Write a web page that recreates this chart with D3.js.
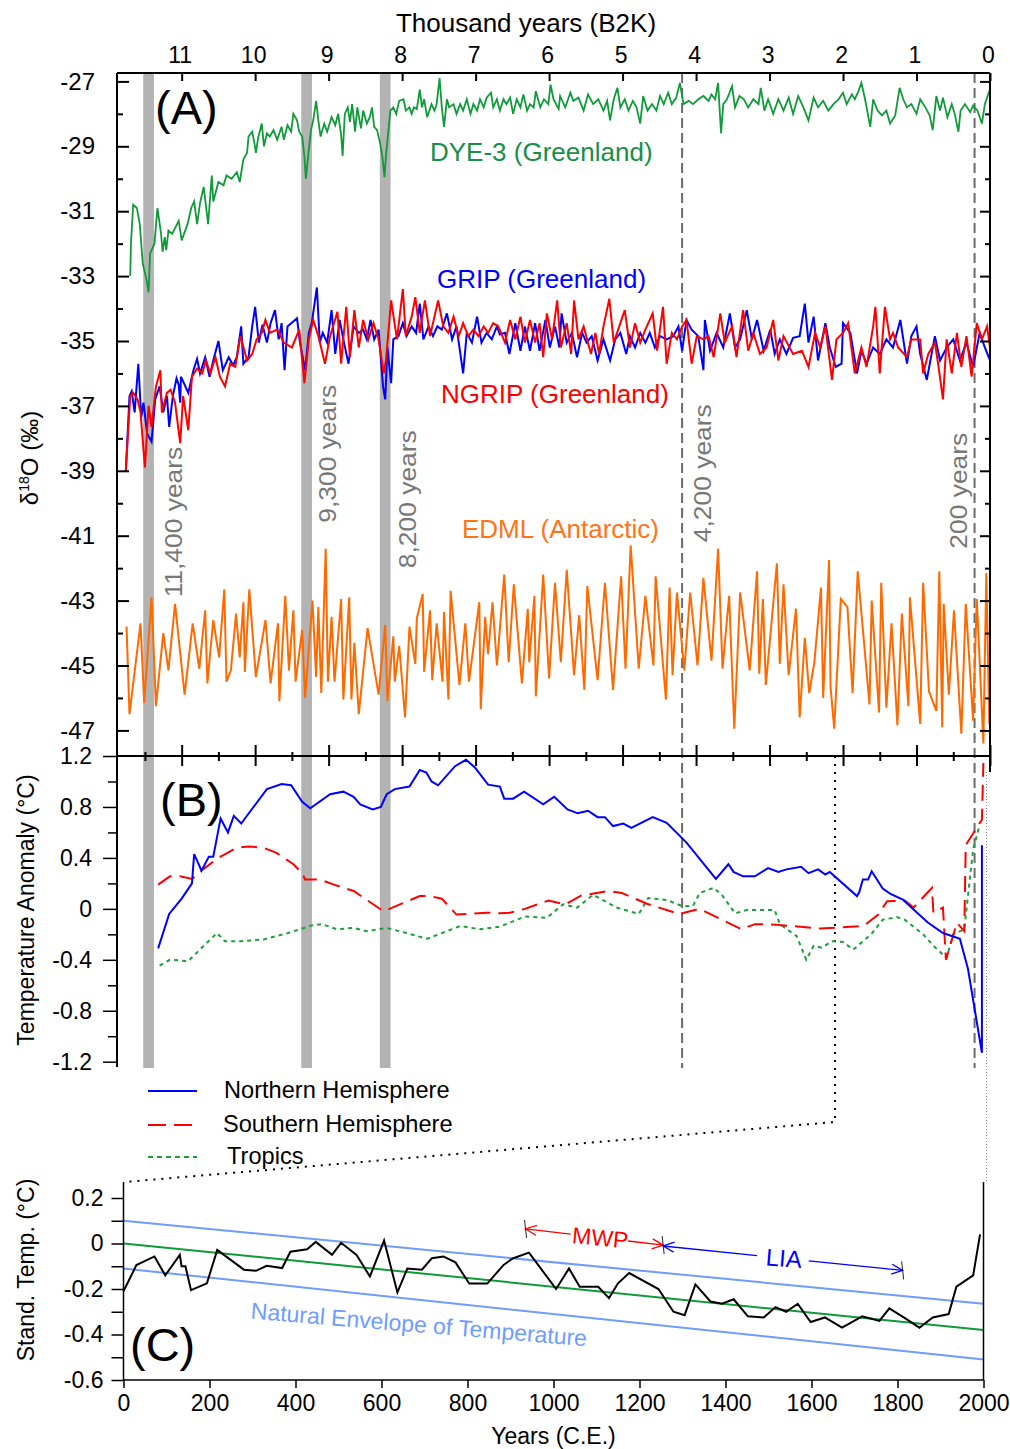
<!DOCTYPE html>
<html>
<head>
<meta charset="utf-8">
<script src="https://d3js.org/d3.v7.min.js"></script>
<style>
  body { margin: 0; background: #fff; }
  text { font-family: "Liberation Sans", Arial, Helvetica, sans-serif; }
</style>
</head>
<body>
<svg id="chart" width="1010" height="1449"></svg>
<script>
// ---------- tick values ----------
var kyrTicks = [11, 10, 9, 8, 7, 6, 5, 4, 3, 2, 1, 0];
var kyrMinor = [11.5, 10.5, 9.5, 8.5, 7.5, 6.5, 5.5, 4.5, 3.5, 2.5, 1.5, 0.5];
var d18oMajor = [-27, -29, -31, -33, -35, -37, -39, -41, -43, -45, -47];
var d18oMinor = [-28, -30, -32, -34, -36, -38, -40, -42, -44, -46];
var anomMajor = [1.2, 0.8, 0.4, 0, -0.4, -0.8, -1.2];
var anomMinor = [1.0, 0.6, 0.2, -0.2, -0.6, -1.0];
var stdMajor = [0.2, 0, -0.2, -0.4, -0.6];
var stdMinor = [0.1, -0.1, -0.3, -0.5];
var yearTicks = [0, 200, 400, 600, 800, 1000, 1200, 1400, 1600, 1800, 2000];

// ---------- events (thousand years B2K) ----------
var eventBands = [11.45, 9.30, 8.23];
var eventLines = [4.19, 0.21];
var eventLabels = ["11,400 years", "9,300 years", "8,200 years", "4,200 years", "200 years"];
var eventLabelAge = [10.99, 8.90, 7.81, 3.80, 0.31];
var eventLabelD18o = [-42.9, -40.6, -42.0, -41.2, -41.4];

// ---------- panel A : d18O records [kyr B2K, permil] ----------
var dye3 = [[11.70,-33.0],[11.69,-32.0],[11.66,-30.8],[11.61,-30.9],[11.57,-31.4],[11.53,-32.6],[11.48,-33.1],[11.45,-33.5],[11.43,-32.3],[11.37,-32.0],[11.33,-30.9],[11.28,-31.7],[11.26,-32.25],[11.23,-31.8],[11.21,-32.2],[11.18,-31.6],[11.13,-31.7],[11.04,-31.3],[11.00,-31.9],[10.92,-31.4],[10.87,-30.9],[10.83,-30.7],[10.79,-31.4],[10.75,-30.75],[10.70,-30.25],[10.64,-31.4],[10.59,-29.9],[10.57,-30.7],[10.54,-30.45],[10.50,-30.1],[10.43,-30.2],[10.39,-29.9],[10.32,-30.0],[10.25,-29.8],[10.21,-30.1],[10.16,-29.4],[10.11,-29.2],[10.09,-28.7],[10.04,-28.55],[10.01,-28.9],[9.99,-29.2],[9.96,-28.75],[9.91,-28.3],[9.88,-29.0],[9.84,-28.6],[9.80,-28.7],[9.75,-28.5],[9.70,-28.8],[9.64,-28.4],[9.61,-28.8],[9.56,-28.35],[9.51,-28.55],[9.48,-28.0],[9.43,-28.2],[9.40,-28.55],[9.36,-28.7],[9.33,-29.3],[9.31,-30.0],[9.27,-29.1],[9.24,-28.5],[9.21,-28.2],[9.17,-27.6],[9.14,-28.2],[9.11,-28.7],[9.06,-28.3],[9.02,-28.55],[8.96,-28.1],[8.91,-28.35],[8.87,-28.0],[8.83,-28.65],[8.81,-29.3],[8.78,-28.0],[8.74,-27.8],[8.71,-28.25],[8.68,-27.7],[8.64,-28.55],[8.61,-27.8],[8.56,-28.45],[8.53,-27.9],[8.48,-28.3],[8.44,-28.1],[8.41,-27.8],[8.38,-28.4],[8.34,-28.5],[8.30,-28.9],[8.27,-29.3],[8.24,-29.95],[8.22,-29.3],[8.19,-28.6],[8.16,-27.9],[8.12,-27.8],[8.08,-28.0],[8.04,-27.6],[7.98,-27.55],[7.95,-27.9],[7.90,-27.8],[7.87,-28.0],[7.84,-27.8],[7.80,-27.85],[7.76,-27.25],[7.73,-27.8],[7.70,-27.55],[7.66,-28.1],[7.60,-27.7],[7.56,-27.9],[7.53,-27.7],[7.49,-26.9],[7.46,-27.8],[7.43,-28.4],[7.39,-27.55],[7.36,-27.8],[7.30,-27.7],[7.26,-28.0],[7.21,-27.7],[7.17,-27.9],[7.12,-27.55],[7.07,-28.0],[7.03,-27.7],[6.98,-27.9],[6.94,-27.55],[6.89,-27.8],[6.85,-27.5],[6.79,-27.35],[6.76,-27.8],[6.71,-27.55],[6.67,-27.9],[6.62,-27.55],[6.58,-27.7],[6.53,-27.5],[6.49,-28.0],[6.44,-27.55],[6.39,-27.8],[6.35,-27.4],[6.30,-27.9],[6.26,-27.7],[6.21,-27.8],[6.18,-27.3],[6.12,-27.8],[6.07,-27.55],[6.01,-27.7],[5.98,-27.1],[5.94,-27.55],[5.87,-27.85],[5.85,-27.45],[5.78,-27.8],[5.71,-27.35],[5.67,-27.6],[5.60,-27.5],[5.53,-27.9],[5.47,-27.4],[5.40,-27.7],[5.33,-27.55],[5.26,-27.9],[5.21,-27.6],[5.17,-28.2],[5.12,-27.55],[5.07,-27.2],[5.03,-27.8],[4.97,-27.55],[4.92,-27.9],[4.86,-27.6],[4.81,-27.8],[4.76,-28.3],[4.72,-27.45],[4.66,-27.9],[4.60,-27.7],[4.54,-27.9],[4.49,-27.45],[4.44,-27.7],[4.38,-27.35],[4.33,-27.7],[4.27,-27.5],[4.22,-27.05],[4.17,-27.7],[4.10,-27.6],[4.04,-27.7],[3.97,-27.55],[3.90,-27.45],[3.83,-27.6],[3.79,-27.4],[3.74,-27.55],[3.70,-27.05],[3.66,-28.6],[3.63,-27.7],[3.58,-27.55],[3.51,-27.15],[3.47,-27.8],[3.41,-27.45],[3.35,-27.55],[3.29,-27.8],[3.22,-27.55],[3.15,-27.7],[3.12,-27.2],[3.07,-27.9],[3.02,-27.55],[2.95,-28.0],[2.88,-27.55],[2.81,-27.9],[2.74,-27.5],[2.68,-28.0],[2.61,-27.45],[2.54,-27.8],[2.47,-28.2],[2.40,-27.5],[2.34,-27.8],[2.27,-27.6],[2.20,-27.9],[2.13,-27.7],[2.06,-27.55],[2.00,-27.35],[1.95,-27.7],[1.88,-27.4],[1.84,-27.55],[1.79,-27.3],[1.75,-27.05],[1.70,-27.55],[1.63,-28.4],[1.59,-27.55],[1.53,-27.9],[1.47,-28.05],[1.41,-27.9],[1.36,-28.3],[1.29,-28.05],[1.23,-27.2],[1.18,-27.55],[1.13,-27.8],[1.07,-27.7],[1.00,-28.0],[0.95,-27.55],[0.88,-27.8],[0.82,-28.05],[0.78,-28.5],[0.73,-27.45],[0.68,-27.9],[0.64,-27.5],[0.58,-28.1],[0.52,-27.7],[0.48,-28.0],[0.43,-28.55],[0.40,-27.9],[0.34,-27.7],[0.27,-27.95],[0.23,-27.75],[0.17,-27.9],[0.11,-28.3],[0.07,-27.7],[0.01,-27.3]];

var grip = [[11.76,-39.0],[11.71,-36.7],[11.68,-36.55],[11.64,-37.2],[11.59,-35.7],[11.55,-37.35],[11.52,-36.9],[11.47,-37.85],[11.41,-38.1],[11.36,-36.8],[11.30,-36.4],[11.25,-37.2],[11.20,-36.7],[11.17,-37.65],[11.12,-36.7],[11.07,-36.15],[11.04,-36.35],[11.02,-36.9],[11.01,-36.1],[10.91,-36.6],[10.84,-35.9],[10.79,-35.55],[10.75,-36.0],[10.68,-35.5],[10.62,-36.1],[10.57,-35.6],[10.50,-35.0],[10.44,-35.9],[10.36,-35.5],[10.30,-35.75],[10.25,-35.5],[10.19,-34.55],[10.16,-35.7],[10.09,-35.5],[10.04,-34.55],[10.00,-33.95],[9.95,-35.05],[9.90,-34.5],[9.84,-35.05],[9.79,-34.45],[9.73,-34.05],[9.68,-34.95],[9.64,-34.45],[9.60,-35.9],[9.56,-34.55],[9.43,-34.3],[9.39,-35.05],[9.32,-35.9],[9.27,-34.75],[9.23,-34.45],[9.16,-33.35],[9.12,-35.05],[9.08,-34.75],[9.02,-35.05],[8.96,-34.05],[8.91,-35.4],[8.85,-34.35],[8.80,-34.95],[8.73,-35.7],[8.66,-34.55],[8.59,-34.75],[8.53,-34.65],[8.48,-34.95],[8.43,-34.35],[8.38,-34.95],[8.32,-34.65],[8.26,-36.4],[8.23,-36.8],[8.20,-35.2],[8.15,-36.3],[8.12,-34.95],[8.05,-34.85],[7.99,-34.45],[7.94,-34.85],[7.87,-34.55],[7.81,-34.75],[7.76,-33.85],[7.71,-34.95],[7.64,-34.55],[7.58,-34.85],[7.52,-34.55],[7.46,-34.65],[7.39,-34.15],[7.32,-34.95],[7.26,-34.55],[7.17,-36.0],[7.12,-34.75],[7.05,-35.05],[6.98,-34.25],[6.92,-35.05],[6.85,-34.75],[6.78,-34.95],[6.71,-34.55],[6.67,-34.8],[6.60,-34.75],[6.54,-35.4],[6.46,-34.45],[6.39,-35.3],[6.33,-34.55],[6.26,-35.3],[6.19,-34.45],[6.13,-35.3],[6.05,-34.35],[5.99,-35.2],[5.92,-34.55],[5.86,-35.2],[5.83,-34.15],[5.76,-35.05],[5.69,-34.75],[5.62,-35.5],[5.55,-34.75],[5.49,-35.05],[5.42,-34.85],[5.34,-35.6],[5.26,-34.95],[5.17,-35.6],[5.10,-34.95],[5.03,-34.75],[4.95,-35.4],[4.90,-34.85],[4.83,-35.2],[4.76,-34.75],[4.69,-35.05],[4.63,-34.75],[4.56,-35.2],[4.49,-34.85],[4.40,-34.95],[4.31,-34.85],[4.24,-34.55],[4.19,-35.3],[4.13,-34.35],[4.06,-34.65],[3.97,-34.85],[3.90,-35.9],[3.88,-34.35],[3.81,-35.3],[3.72,-34.75],[3.63,-35.2],[3.54,-34.15],[3.47,-35.2],[3.40,-34.95],[3.31,-34.05],[3.24,-34.95],[3.17,-34.35],[3.08,-35.3],[2.99,-34.65],[2.93,-35.4],[2.86,-34.95],[2.77,-35.4],[2.68,-34.9],[2.59,-34.85],[2.52,-33.85],[2.47,-35.05],[2.40,-34.25],[2.34,-35.6],[2.24,-34.45],[2.18,-35.2],[2.10,-35.8],[2.02,-35.7],[2.00,-34.45],[1.90,-34.75],[1.81,-36.0],[1.75,-35.3],[1.68,-35.7],[1.59,-35.2],[1.50,-35.4],[1.41,-34.95],[1.32,-35.2],[1.22,-34.35],[1.13,-35.7],[1.07,-34.85],[1.00,-34.55],[0.95,-35.4],[0.86,-36.2],[0.75,-34.85],[0.68,-35.6],[0.59,-35.2],[0.50,-34.95],[0.41,-35.6],[0.32,-35.05],[0.23,-35.8],[0.14,-34.75],[0.07,-35.2],[0.00,-35.6]];

var ngrip = [[11.76,-39.0],[11.70,-36.7],[11.66,-36.6],[11.60,-36.8],[11.56,-37.2],[11.50,-38.9],[11.45,-37.0],[11.41,-37.65],[11.35,-36.4],[11.29,-35.9],[11.27,-37.2],[11.20,-36.6],[11.15,-36.5],[11.09,-36.9],[11.02,-38.15],[10.98,-36.7],[10.91,-37.75],[10.86,-36.1],[10.79,-35.85],[10.72,-36.0],[10.67,-35.6],[10.61,-36.0],[10.54,-35.5],[10.48,-36.1],[10.41,-36.4],[10.34,-35.7],[10.27,-35.8],[10.20,-34.85],[10.11,-35.6],[10.04,-35.4],[9.98,-34.95],[9.91,-34.75],[9.86,-34.35],[9.80,-34.75],[9.70,-34.65],[9.61,-35.05],[9.50,-35.2],[9.40,-34.65],[9.33,-36.3],[9.27,-34.95],[9.21,-34.35],[9.14,-34.85],[9.05,-35.7],[8.98,-34.85],[8.88,-34.1],[8.83,-35.7],[8.76,-33.95],[8.71,-35.5],[8.65,-34.05],[8.59,-35.2],[8.53,-34.35],[8.46,-34.95],[8.39,-34.45],[8.32,-34.95],[8.25,-36.0],[8.22,-35.6],[8.15,-33.75],[8.07,-34.95],[7.99,-33.4],[7.95,-34.85],[7.87,-34.25],[7.82,-33.65],[7.76,-34.75],[7.69,-33.75],[7.62,-34.85],[7.51,-33.75],[7.44,-34.55],[7.37,-34.75],[7.30,-34.25],[7.23,-34.85],[7.17,-34.45],[7.10,-34.85],[7.03,-34.65],[6.96,-34.85],[6.89,-34.55],[6.83,-34.75],[6.76,-34.45],[6.69,-34.55],[6.60,-35.05],[6.53,-34.35],[6.46,-34.95],[6.39,-34.25],[6.33,-35.05],[6.26,-34.35],[6.19,-35.05],[6.13,-34.45],[6.08,-35.5],[6.03,-34.15],[5.96,-34.95],[5.89,-33.75],[5.84,-35.2],[5.76,-34.45],[5.70,-35.4],[5.66,-33.75],[5.60,-34.95],[5.53,-34.55],[5.43,-35.4],[5.37,-34.75],[5.32,-35.4],[5.26,-34.55],[5.18,-33.7],[5.12,-35.05],[5.06,-34.65],[4.97,-34.05],[4.90,-35.2],[4.83,-34.45],[4.76,-35.05],[4.69,-34.65],[4.59,-34.15],[4.53,-35.3],[4.45,-33.95],[4.40,-35.7],[4.33,-34.75],[4.26,-34.95],[4.19,-34.55],[4.13,-34.35],[4.06,-35.7],[3.99,-34.85],[3.90,-34.95],[3.83,-34.85],[3.76,-35.5],[3.67,-34.15],[3.61,-35.05],[3.51,-34.55],[3.45,-35.5],[3.36,-34.05],[3.29,-35.3],[3.22,-34.75],[3.13,-35.4],[3.04,-35.2],[2.95,-34.35],[2.88,-35.6],[2.81,-34.85],[2.68,-35.4],[2.56,-35.3],[2.47,-35.8],[2.38,-34.75],[2.31,-35.2],[2.24,-34.55],[2.15,-36.2],[2.09,-34.95],[2.00,-34.75],[1.93,-34.45],[1.84,-36.0],[1.75,-35.2],[1.68,-35.8],[1.59,-34.55],[1.56,-33.95],[1.50,-36.0],[1.43,-33.95],[1.36,-34.95],[1.32,-34.75],[1.25,-35.2],[1.13,-35.5],[1.07,-34.95],[0.95,-34.95],[0.91,-36.0],[0.84,-35.4],[0.75,-35.05],[0.70,-35.8],[0.64,-36.8],[0.59,-34.95],[0.52,-36.0],[0.45,-34.75],[0.39,-35.8],[0.32,-34.85],[0.25,-36.1],[0.18,-34.45],[0.11,-34.95],[0.04,-34.55],[0.00,-35.2]];

var edml = [[11.75,-43.8],[11.71,-46.5],[11.56,-43.7],[11.51,-46.15],[11.41,-42.9],[11.35,-46.25],[11.25,-44.0],[11.18,-45.15],[11.09,-43.1],[10.96,-45.9],[10.85,-43.7],[10.76,-45.1],[10.68,-43.3],[10.65,-45.55],[10.57,-43.6],[10.49,-44.75],[10.42,-42.65],[10.39,-45.5],[10.33,-45.15],[10.26,-43.4],[10.21,-44.75],[10.16,-43.05],[10.14,-45.2],[10.08,-42.65],[9.99,-45.35],[9.86,-43.6],[9.79,-45.55],[9.69,-43.7],[9.67,-46.1],[9.59,-42.85],[9.54,-45.15],[9.48,-43.3],[9.45,-45.5],[9.36,-43.9],[9.32,-46.0],[9.22,-43.0],[9.17,-45.35],[9.14,-43.2],[9.10,-45.85],[9.04,-41.4],[9.01,-45.5],[8.96,-43.5],[8.92,-45.5],[8.83,-42.95],[8.80,-46.05],[8.72,-42.9],[8.69,-46.05],[8.65,-44.3],[8.59,-46.5],[8.47,-43.85],[8.32,-45.9],[8.23,-43.75],[8.20,-46.1],[8.12,-44.1],[8.10,-45.5],[8.04,-44.4],[7.96,-46.6],[7.90,-43.8],[7.82,-44.95],[7.80,-43.55],[7.72,-42.8],[7.70,-45.2],[7.62,-43.3],[7.59,-45.45],[7.53,-43.7],[7.45,-45.5],[7.43,-43.35],[7.37,-46.05],[7.34,-42.7],[7.22,-45.6],[7.14,-43.7],[7.09,-45.5],[6.95,-43.05],[6.93,-46.35],[6.87,-43.5],[6.83,-44.65],[6.77,-43.05],[6.71,-45.0],[6.61,-42.2],[6.55,-44.9],[6.48,-42.5],[6.37,-45.55],[6.29,-43.25],[6.27,-44.9],[6.20,-42.85],[6.18,-45.95],[6.08,-42.2],[6.00,-45.4],[5.92,-42.45],[5.84,-44.9],[5.76,-42.05],[5.66,-45.3],[5.59,-43.45],[5.52,-45.75],[5.48,-42.55],[5.34,-45.45],[5.24,-42.45],[5.13,-45.75],[5.02,-42.25],[4.96,-45.1],[4.89,-41.3],[4.78,-45.1],[4.69,-42.85],[4.58,-45.0],[4.55,-42.25],[4.41,-46.05],[4.36,-42.6],[4.32,-45.3],[4.26,-42.75],[4.16,-45.15],[4.08,-42.75],[3.98,-45.0],[3.90,-42.3],[3.79,-44.85],[3.70,-41.4],[3.64,-45.1],[3.55,-42.85],[3.48,-46.95],[3.40,-42.75],[3.27,-45.15],[3.17,-42.1],[3.14,-45.25],[3.09,-42.95],[3.05,-45.6],[2.90,-41.85],[2.86,-44.95],[2.81,-42.5],[2.74,-45.3],[2.64,-43.25],[2.59,-46.6],[2.52,-44.15],[2.46,-45.85],[2.39,-44.9],[2.30,-42.6],[2.27,-46.0],[2.19,-41.75],[2.17,-45.65],[2.12,-46.95],[2.03,-42.95],[1.94,-43.2],[1.87,-45.85],[1.80,-42.1],[1.64,-46.2],[1.61,-43.0],[1.51,-46.45],[1.48,-42.45],[1.41,-46.3],[1.34,-43.7],[1.26,-46.85],[1.20,-43.4],[1.11,-46.25],[1.09,-42.9],[0.95,-46.8],[0.91,-42.45],[0.83,-45.8],[0.73,-46.4],[0.69,-42.1],[0.65,-46.9],[0.63,-43.1],[0.56,-45.9],[0.49,-43.3],[0.39,-47.1],[0.33,-43.1],[0.23,-46.7],[0.18,-42.95],[0.09,-47.4],[0.05,-42.15],[0.01,-46.8]];

// ---------- panel B : temperature anomaly [kyr B2K, degC] ----------
var nhTemp = [[11.32,-0.31],[11.17,-0.04],[11.00,0.08],[10.86,0.20],[10.83,0.43],[10.73,0.30],[10.63,0.41],[10.57,0.41],[10.47,0.71],[10.37,0.60],[10.29,0.73],[10.19,0.67],[9.84,0.94],[9.64,0.98],[9.51,0.97],[9.36,0.84],[9.25,0.79],[8.98,0.90],[8.80,0.92],[8.66,0.88],[8.57,0.82],[8.40,0.78],[8.29,0.80],[8.21,0.90],[8.10,0.94],[7.90,0.96],[7.76,1.09],[7.67,1.07],[7.60,1.00],[7.51,0.97],[7.28,1.12],[7.13,1.17],[7.01,1.11],[6.83,0.975],[6.67,0.96],[6.61,0.865],[6.49,0.865],[6.34,0.92],[6.08,0.82],[5.93,0.88],[5.75,0.78],[5.61,0.75],[5.47,0.77],[5.34,0.72],[5.24,0.72],[5.13,0.65],[4.99,0.67],[4.88,0.635],[4.59,0.72],[4.40,0.675],[4.13,0.52],[3.73,0.235],[3.56,0.35],[3.49,0.29],[3.36,0.255],[3.20,0.255],[3.02,0.32],[2.88,0.29],[2.77,0.31],[2.57,0.33],[2.47,0.28],[2.34,0.31],[2.24,0.27],[2.18,0.29],[1.81,0.10],[1.78,0.13],[1.73,0.23],[1.66,0.23],[1.61,0.295],[1.46,0.16],[1.36,0.12],[1.18,0.07],[1.04,-0.005],[0.85,-0.105],[0.64,-0.19],[0.41,-0.235],[0.30,-0.47],[0.11,-1.13],[0.11,0.50]];

var shTemp = [[11.32,0.19],[11.16,0.255],[11.02,0.255],[10.86,0.235],[10.71,0.31],[10.50,0.40],[10.25,0.48],[10.09,0.49],[9.89,0.48],[9.71,0.44],[9.48,0.35],[9.36,0.28],[9.32,0.23],[9.12,0.23],[8.93,0.19],[8.66,0.14],[8.48,0.07],[8.25,-0.02],[8.03,0.035],[7.76,0.10],[7.62,0.10],[7.46,0.08],[7.26,-0.045],[6.85,-0.03],[6.67,-0.035],[6.53,-0.03],[6.33,0.0],[6.01,0.065],[5.78,0.035],[5.56,0.105],[5.19,0.14],[5.01,0.125],[4.67,0.04],[4.23,-0.04],[3.95,0.0],[3.38,-0.16],[3.20,-0.12],[2.90,-0.125],[2.31,-0.155],[1.72,-0.135],[1.52,-0.045],[1.40,0.06],[1.16,0.065],[1.04,0.01],[0.79,0.165],[0.77,-0.03],[0.64,0.01],[0.60,-0.40],[0.45,-0.11],[0.35,-0.175],[0.33,0.50],[0.11,0.70],[0.09,1.145]];

var tropTemp = [[11.30,-0.445],[11.16,-0.40],[10.91,-0.41],[10.70,-0.29],[10.52,-0.19],[10.41,-0.255],[10.20,-0.255],[9.89,-0.24],[9.55,-0.19],[9.23,-0.13],[9.09,-0.12],[8.89,-0.16],[8.66,-0.15],[8.48,-0.175],[8.21,-0.15],[7.94,-0.19],[7.66,-0.235],[7.21,-0.135],[6.94,-0.16],[6.67,-0.14],[6.33,-0.06],[6.03,-0.07],[5.81,0.035],[5.62,0.01],[5.40,0.11],[5.08,0.01],[4.78,-0.04],[4.65,0.085],[4.40,0.07],[4.18,0.02],[4.04,0.025],[3.95,0.125],[3.76,0.165],[3.65,0.11],[3.47,-0.035],[3.31,-0.01],[2.93,-0.01],[2.86,-0.12],[2.63,-0.215],[2.50,-0.40],[2.40,-0.29],[2.29,-0.305],[2.15,-0.255],[2.00,-0.26],[1.86,-0.32],[1.61,-0.195],[1.46,-0.085],[1.27,-0.065],[1.16,-0.085],[0.91,-0.20],[0.77,-0.29],[0.59,-0.385],[0.50,-0.20],[0.35,-0.16],[0.23,0.465],[0.14,0.66]];

// ---------- panel C : standardised temperature [year CE, degC] ----------
var stdTemp = [[0,-0.21],[30,-0.095],[72,-0.057],[97,-0.14],[131,-0.05],[135,-0.10],[144,-0.10],[157,-0.205],[194,-0.175],[218,-0.028],[280,-0.115],[308,-0.12],[333,-0.098],[369,-0.108],[388,-0.036],[427,-0.025],[447,0.007],[485,-0.05],[506,0.003],[542,-0.05],[573,-0.145],[606,0.013],[637,-0.215],[660,-0.11],[694,-0.115],[717,-0.065],[744,-0.057],[772,-0.083],[804,-0.176],[846,-0.176],[884,-0.094],[905,-0.066],[943,-0.04],[1006,-0.20],[1036,-0.11],[1061,-0.19],[1104,-0.19],[1129,-0.24],[1150,-0.175],[1176,-0.13],[1244,-0.20],[1279,-0.30],[1305,-0.315],[1330,-0.18],[1365,-0.255],[1392,-0.265],[1419,-0.245],[1452,-0.32],[1489,-0.325],[1516,-0.28],[1541,-0.30],[1568,-0.265],[1598,-0.345],[1631,-0.325],[1671,-0.37],[1718,-0.32],[1758,-0.34],[1781,-0.285],[1819,-0.33],[1851,-0.37],[1882,-0.325],[1919,-0.31],[1937,-0.19],[1976,-0.14],[1992,0.04]];
var envUpper = [[0, 0.10], [2000, -0.265]];
var envMiddle = [[0, 0.0], [2000, -0.38]];
var envLower = [[0, -0.11], [2000, -0.51]];
var mwpSpan = [935, 1255];
var liaSpan = [1255, 1812];

// ---------- setup ----------
var FONT = "'Liberation Sans', Arial, Helvetica, sans-serif";
var svg = d3.select("#chart");

var xK = d3.scaleLinear().domain([11.88, 0]).range([117, 990]);
var yA = d3.scaleLinear().domain([-27, -47]).range([81.4, 730.4]);
var yB = d3.scaleLinear().domain([1.2, -1.2]).range([756, 1061.7]);
var xC = d3.scaleLinear().domain([0, 2000]).range([123.5, 983.5]);
var yC = d3.scaleLinear().domain([0.2, -0.6]).range([1198, 1380]);

var topA = 73, bottomA = 756, bottomBands = 1068;

function cleanAxis(g, size) {
    g.select(".domain").remove();
    g.attr("font-family", FONT).attr("font-size", size || 23);
    g.selectAll("line").attr("stroke", "#000").attr("stroke-width", 2);
    g.selectAll("text").attr("fill", "#000");
}

// ---------- event bands & lines ----------
svg.selectAll(".band").data(eventBands).enter().append("rect")
    .attr("x", d => xK(d + 0.073))
    .attr("width", d => xK(d - 0.073) - xK(d + 0.073))
    .attr("y", topA)
    .attr("height", bottomBands - topA)
    .attr("fill", "#b3b3b3");

svg.selectAll(".evline").data(eventLines).enter().append("line")
    .attr("x1", d => xK(d)).attr("x2", d => xK(d))
    .attr("y1", topA).attr("y2", bottomBands)
    .attr("stroke", "#6b6b6b").attr("stroke-width", 2)
    .attr("stroke-dasharray", "10,5");

eventLabels.forEach(function (t, i) {
    svg.append("text")
        .attr("transform", "translate(" + xK(eventLabelAge[i]) + "," + yA(eventLabelD18o[i]) + ") rotate(-90) scale(1.1,1)")
        .attr("font-size", 24)
        .attr("fill", "#777")
        .text(t);
});

// ---------- connectors to panel C ----------
var zoomAge = 2.11;
svg.append("path")
    .attr("d", "M" + xK(zoomAge) + "," + bottomA + "V1122L" + xC(0) + "," + yC(0.27))
    .attr("fill", "none").attr("stroke", "#000").attr("stroke-width", 2)
    .attr("stroke-dasharray", "2,6");
svg.append("line")
    .attr("x1", xC(2000) + 3).attr("x2", xC(2000) + 3)
    .attr("y1", 772).attr("y2", yC(0.27))
    .attr("stroke", "#888").attr("stroke-width", 1).attr("stroke-dasharray", "1,2");

// ---------- panel A lines ----------
var lineA = d3.line().x(d => xK(d[0])).y(d => yA(d[1]));
svg.append("path").datum(dye3).attr("d", lineA)
    .attr("fill", "none").attr("stroke", "#109a3a").attr("stroke-width", 1.8);
svg.append("path").datum(edml).attr("d", lineA)
    .attr("fill", "none").attr("stroke", "#ff6a00").attr("stroke-width", 2);
svg.append("path").datum(grip).attr("d", lineA)
    .attr("fill", "none").attr("stroke", "#0000ff").attr("stroke-width", 2);
svg.append("path").datum(ngrip).attr("d", lineA)
    .attr("fill", "none").attr("stroke", "#ff0000").attr("stroke-width", 2);

// series labels
var seriesLabels = [
    {t: "DYE-3 (Greenland)", c: "#178f48", x: 430, y: 161},
    {t: "GRIP (Greenland)", c: "#0000ff", x: 437, y: 288},
    {t: "NGRIP (Greenland)", c: "#ff0000", x: 441, y: 403},
    {t: "EDML (Antarctic)", c: "#ff7417", x: 462, y: 538}
];
svg.selectAll(".slab").data(seriesLabels).enter().append("text")
    .attr("x", d => d.x).attr("y", d => d.y)
    .attr("font-size", 26).attr("fill", d => d.c)
    .text(d => d.t);

// ---------- panel A axes ----------
var gTop = svg.append("g").attr("transform", "translate(0," + topA + ")")
    .call(d3.axisTop(xK).tickValues(kyrTicks).tickSize(-8).tickPadding(10).tickFormat(d => d));
cleanAxis(gTop);
gTop.selectAll("text").attr("dx", -2);

var gLA = svg.append("g").attr("transform", "translate(117,0)")
    .call(d3.axisLeft(yA).tickValues(d18oMajor).tickSize(-12).tickPadding(22).tickFormat(d => String(d)));
cleanAxis(gLA, 24);
var gLA2 = svg.append("g").attr("transform", "translate(117,0)")
    .call(d3.axisLeft(yA).tickValues(d18oMinor).tickSize(-6).tickFormat(""));
cleanAxis(gLA2);
var gRA = svg.append("g").attr("transform", "translate(990,0)")
    .call(d3.axisRight(yA).tickValues(d18oMajor).tickSize(-10).tickFormat(""));
cleanAxis(gRA);
var gRA2 = svg.append("g").attr("transform", "translate(990,0)")
    .call(d3.axisRight(yA).tickValues(d18oMinor).tickSize(-5).tickFormat(""));
cleanAxis(gRA2);

// shared axis between A and B (kyr ticks both sides)
[[d3.axisBottom, kyrTicks, 10], [d3.axisTop, kyrTicks, 11], [d3.axisBottom, kyrMinor, 5], [d3.axisTop, kyrMinor, 4]]
    .forEach(function (a) {
        var g = svg.append("g").attr("transform", "translate(0," + bottomA + ")")
            .call(a[0](xK).tickValues(a[1]).tickSize(a[2]).tickFormat(""));
        cleanAxis(g);
    });

// frame lines
var frame = [
    [117, topA, 990, topA],
    [117, topA, 117, 1067],
    [990, topA, 990, 772],
    [117, bottomA, 990, bottomA]
];
svg.selectAll(".frame").data(frame).enter().append("line")
    .attr("x1", d => d[0]).attr("y1", d => d[1]).attr("x2", d => d[2]).attr("y2", d => d[3])
    .attr("stroke", "#000").attr("stroke-width", 2);

// ---------- panel B ----------
var lineB = d3.line().x(d => xK(d[0])).y(d => yB(d[1]));
svg.append("path").datum(tropTemp).attr("d", lineB)
    .attr("fill", "none").attr("stroke", "#1e9e3e").attr("stroke-width", 2)
    .attr("stroke-dasharray", "4,4");
svg.append("path").datum(shTemp).attr("d", lineB)
    .attr("fill", "none").attr("stroke", "#ff0000").attr("stroke-width", 2)
    .attr("stroke-dasharray", "16,8");
svg.append("path").datum(nhTemp).attr("d", lineB)
    .attr("fill", "none").attr("stroke", "#0000ff").attr("stroke-width", 2);

var fmtB = d => d === 0 ? "0" : d.toFixed(1);
var gLB = svg.append("g").attr("transform", "translate(117,0)")
    .call(d3.axisLeft(yB).tickValues(anomMajor).tickSize(14).tickPadding(11).tickFormat(fmtB));
cleanAxis(gLB);
gLB.selectAll("line").attr("stroke-width", 1.5);
var gLB2 = svg.append("g").attr("transform", "translate(117,0)")
    .call(d3.axisLeft(yB).tickValues(anomMinor).tickSize(9).tickFormat(""));
cleanAxis(gLB2);
gLB2.selectAll("line").attr("stroke-width", 1.5);

// legend
var legend = [
    {t: "Northern Hemisphere", c: "#0000ff", dash: null, y: 1091, tx: 224},
    {t: "Southern Hemisphere", c: "#ff0000", dash: "18,8", y: 1125, tx: 223},
    {t: "Tropics", c: "#1e9e3e", dash: "5,4", y: 1157, tx: 227}
];
svg.selectAll(".legl").data(legend).enter().append("line")
    .attr("x1", 148).attr("x2", 197)
    .attr("y1", d => d.y).attr("y2", d => d.y)
    .attr("stroke", d => d.c).attr("stroke-width", 2)
    .attr("stroke-dasharray", d => d.dash);
svg.selectAll(".legt").data(legend).enter().append("text")
    .attr("x", d => d.tx).attr("y", d => d.y + 7)
    .attr("font-size", 23.6).attr("fill", "#000")
    .text(d => d.t);

// ---------- panel C ----------
var lineC = d3.line().x(d => xC(d[0])).y(d => yC(d[1]));
svg.append("path").datum(envUpper).attr("d", lineC)
    .attr("fill", "none").attr("stroke", "#6f9cff").attr("stroke-width", 2);
svg.append("path").datum(envLower).attr("d", lineC)
    .attr("fill", "none").attr("stroke", "#6f9cff").attr("stroke-width", 2);
svg.append("path").datum(envMiddle).attr("d", lineC)
    .attr("fill", "none").attr("stroke", "#109a3a").attr("stroke-width", 2);
svg.append("path").datum(stdTemp).attr("d", lineC)
    .attr("fill", "none").attr("stroke", "#000").attr("stroke-width", 2);

var gLC = svg.append("g").attr("transform", "translate(" + xC(0) + ",0)")
    .call(d3.axisLeft(yC).tickValues(stdMajor).tickSize(12).tickPadding(8).tickFormat(fmtB));
cleanAxis(gLC);
gLC.selectAll("line").attr("stroke-width", 1.5);
var gLC2 = svg.append("g").attr("transform", "translate(" + xC(0) + ",0)")
    .call(d3.axisLeft(yC).tickValues(stdMinor).tickSize(12).tickFormat(""));
cleanAxis(gLC2);
gLC2.selectAll("line").attr("stroke-width", 1.5);
var gBC = svg.append("g").attr("transform", "translate(0," + yC(-0.6) + ")")
    .call(d3.axisBottom(xC).tickValues(yearTicks).tickSize(8).tickPadding(7).tickFormat(d => String(d)));
cleanAxis(gBC);
gBC.selectAll("line").attr("stroke-width", 1.5);

var frameC = [
    [xC(0), yC(0.27), xC(0), yC(-0.6)],
    [xC(0), yC(-0.6), xC(2000), yC(-0.6)],
    [xC(2000), yC(0.27), xC(2000), yC(-0.6)]
];
svg.selectAll(".frameC").data(frameC).enter().append("line")
    .attr("x1", d => d[0]).attr("y1", d => d[1]).attr("x2", d => d[2]).attr("y2", d => d[3])
    .attr("stroke", "#000").attr("stroke-width", 1.5);

// envelope label
var envAngle = Math.atan2(yC(envLower[1][1]) - yC(envLower[0][1]), xC(2000) - xC(0)) * 180 / Math.PI * 0.78;
svg.append("text")
    .attr("transform", "translate(" + xC(295) + "," + yC(-0.33) + ") rotate(" + envAngle + ")")
    .attr("font-size", 23).attr("fill", "#6f9cff")
    .text("Natural Envelope of Temperature");

// MWP / LIA span arrows
function spanArrow(span, v0, v1, label, color, gap, fontSize) {
    var x0 = xC(span[0]), x1 = xC(span[1]), y0 = yC(v0), y1 = yC(v1);
    var ang = Math.atan2(y1 - y0, x1 - x0);
    var mx = (x0 + x1) / 2 + gap[2], my = y0 + (mx - x0) * Math.tan(ang);
    var ux = Math.cos(ang), uy = Math.sin(ang);
    var g = svg.append("g");
    g.append("line").attr("x1", x0).attr("y1", y0).attr("x2", mx - gap[0] * ux).attr("y2", my - gap[0] * uy)
        .attr("stroke", color).attr("stroke-width", 1.3);
    g.append("line").attr("x1", mx + gap[1] * ux).attr("y1", my + gap[1] * uy).attr("x2", x1).attr("y2", y1)
        .attr("stroke", color).attr("stroke-width", 1.3);
    // open heads
    [[x0, y0, 1], [x1, y1, -1]].forEach(function (p) {
        var dx = p[2] * ux, dy = p[2] * uy;
        var bx = p[0] + 11 * dx, by = p[1] + 11 * dy;
        g.append("path")
            .attr("d", "M" + (bx - 5 * dy) + "," + (by + 5 * dx) + "L" + p[0] + "," + p[1] + "L" + (bx + 5 * dy) + "," + (by - 5 * dx))
            .attr("fill", "none").attr("stroke", color).attr("stroke-width", 1.3);
    });
    g.append("text")
        .attr("transform", "translate(" + mx + "," + my + ") rotate(" + (ang * 180 / Math.PI * 0.8) + ")")
        .attr("text-anchor", "middle").attr("dy", "0.35em")
        .attr("font-size", fontSize).attr("fill", color)
        .text(label);
    return [[x0, y0], [x1, y1]];
}
var mwpEnds = spanArrow(mwpSpan, 0.064, -0.007, "MWP", "#ff0000", [30, 28, 6], 23);
var liaEnds = spanArrow(liaSpan, -0.011, -0.118, "LIA", "#0000ff", [27, 25, 1], 24);
// end bars
[mwpEnds[0], mwpEnds[1], liaEnds[1]].forEach(function (p) {
    svg.append("line")
        .attr("x1", p[0] - 1).attr("y1", p[1] - 9).attr("x2", p[0] + 1).attr("y2", p[1] + 9)
        .attr("stroke", "#222").attr("stroke-width", 1);
});

// ---------- titles ----------
svg.append("text").attr("x", 526).attr("y", 32).attr("text-anchor", "middle")
    .attr("font-size", 26).text("Thousand years (B2K)");
svg.append("text").attr("x", xC(1000)).attr("y", 1444).attr("text-anchor", "middle")
    .attr("font-size", 23).text("Years (C.E.)");

var yt = svg.append("text").attr("transform", "translate(38,458) rotate(-90)")
    .attr("text-anchor", "middle").attr("font-size", 24);
yt.append("tspan").text("δ");
yt.append("tspan").attr("font-size", 14).attr("dy", -9).text("18");
yt.append("tspan").attr("dy", 9).text("O (‰)");

svg.append("text").attr("transform", "translate(34,910) rotate(-90)")
    .attr("text-anchor", "middle").attr("font-size", 23).text("Temperature Anomaly (°C)");
svg.append("text").attr("transform", "translate(34,1270) rotate(-90)")
    .attr("text-anchor", "middle").attr("font-size", 23).text("Stand. Temp. (°C)");

var panelLabels = [
    {t: "(A)", x: 155, y: 124},
    {t: "(B)", x: 160, y: 816},
    {t: "(C)", x: 130, y: 1361}
];
svg.selectAll(".plab").data(panelLabels).enter().append("text")
    .attr("x", d => d.x).attr("y", d => d.y)
    .attr("font-size", 47).attr("fill", "#000")
    .text(d => d.t);
</script>
</body>
</html>
